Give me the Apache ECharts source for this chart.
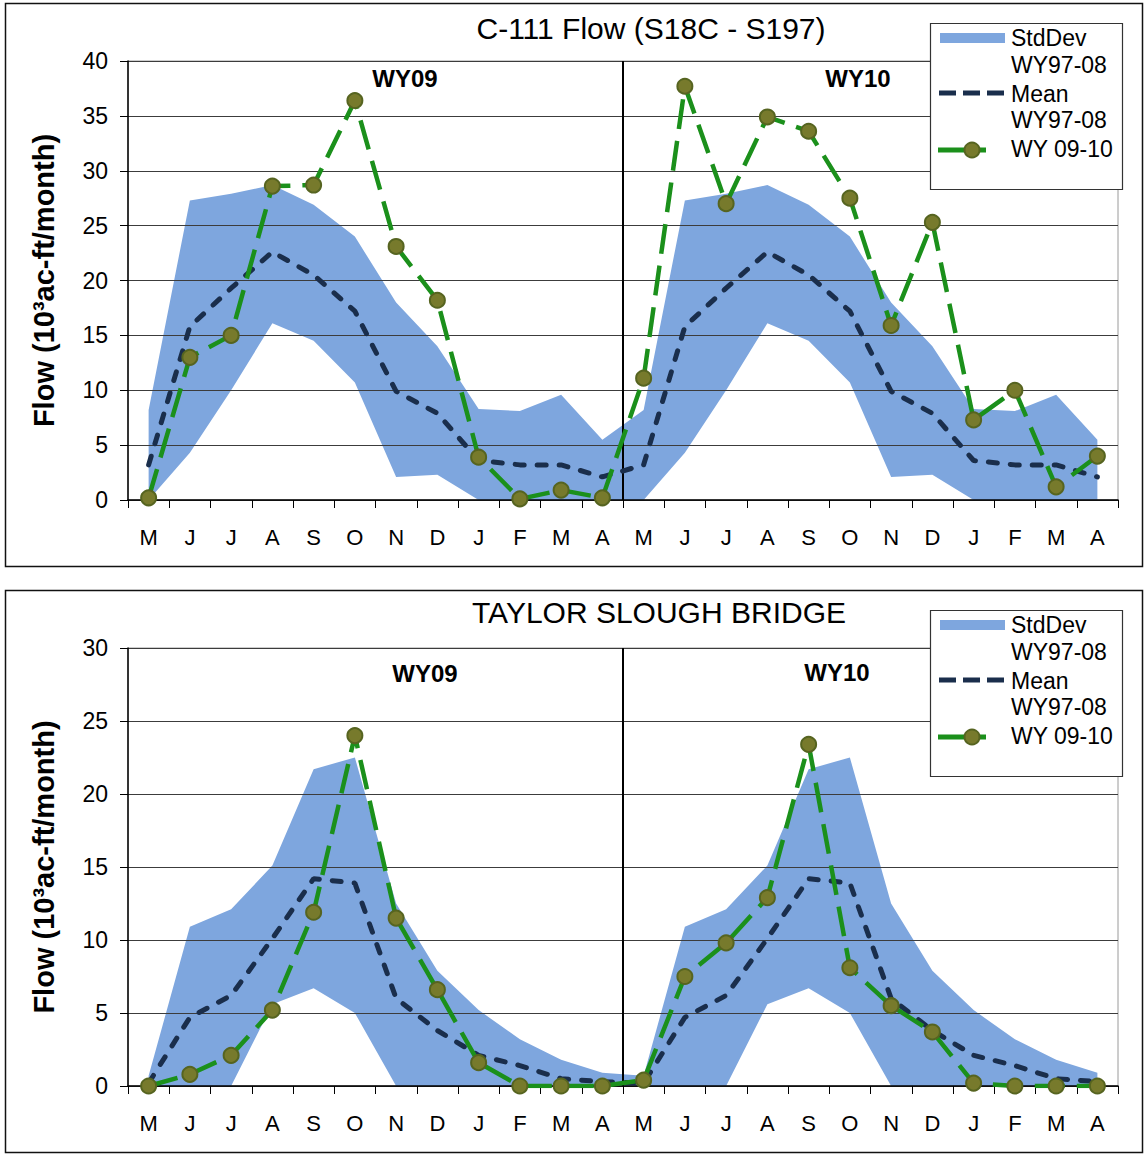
<!DOCTYPE html>
<html>
<head>
<meta charset="utf-8">
<title>C-111 Flow and Taylor Slough Bridge</title>
<script src="https://cdn.jsdelivr.net/npm/echarts@6/dist/echarts.min.js"></script>
<style>
  html, body { margin: 0; padding: 0; background: #fff; }
  #chart { width: 1146px; height: 1155px; }
</style>
</head>
<body>
<div id="chart"></div>
<script>
// Month labels of one water year (May - April)
const months = ['M', 'J', 'J', 'A', 'S', 'O', 'N', 'D', 'J', 'F', 'M', 'A'];
const yearLabels = ['WY09', 'WY10'];

// C-111 Flow (S18C - S197), 10^3 ac-ft/month
const c111Mean = [3.2, 15.8, 19.3, 22.6, 20.5, 17.2, 9.9, 7.9, 3.6, 3.2, 3.2, 2.1];
const c111SdUpper = [8.2, 27.3, 27.9, 28.7, 26.9, 24.0, 18.0, 14.0, 8.3, 8.1, 9.6, 5.5];
const c111SdLower = [0, 4.3, 10.0, 16.1, 14.5, 10.7, 2.1, 2.3, 0, 0, 0, 0];
const c111Flow = [0.2, 13.0, 15.0, 28.6, 28.7, 36.4, 23.1, 18.2, 3.9, 0.1, 0.9, 0.2,
                  11.1, 37.7, 27.0, 34.9, 33.6, 27.5, 15.9, 25.3, 7.3, 10.0, 1.2, 4.0];

// Taylor Slough Bridge, 10^3 ac-ft/month
const tsbMean = [0.2, 4.7, 6.2, 10.1, 14.2, 13.9, 6.0, 3.8, 2.1, 1.4, 0.5, 0.3];
const tsbSdUpper = [0.7, 10.9, 12.1, 15.1, 21.7, 22.5, 12.5, 7.9, 5.2, 3.2, 1.8, 0.9];
const tsbSdLower = [0, 0, 0, 5.6, 6.7, 5.0, 0, 0, 0, 0, 0, 0];
const tsbFlow = [0, 0.8, 2.1, 5.2, 11.9, 24.0, 11.5, 6.6, 1.6, 0, 0, 0,
                 0.4, 7.5, 9.8, 12.9, 23.4, 8.1, 5.5, 3.7, 0.2, 0, 0, 0];

// Axis ranges
const c111Y = { max: 40, step: 5 };
const tsbY = { max: 30, step: 5 };

// ---- styling ----
const FONT = "'Liberation Sans', Arial, sans-serif";
const BAND = '#7ea6de';
const NAVY = '#1a2e4c';
const GREEN = '#1b901b';
const MARKER = '#777a2c';
const MARKER_EDGE = '#566420';

// The WY97-08 statistics repeat for both water years
const twoYears = arr => arr.concat(arr);
const categories = twoYears(months);

const panels = [
  { title: 'C-111 Flow (S18C - S197)', y: c111Y, mean: c111Mean, up: c111SdUpper, lo: c111SdLower,
    flow: c111Flow, top: 61, height: 439, frame: [5.5, 3.5, 1137, 563], dy: 0,
    titleX: 651, titleY: 28, wyPos: [[405, 78], [858, 78]] },
  { title: 'TAYLOR SLOUGH BRIDGE', y: tsbY, mean: tsbMean, up: tsbSdUpper, lo: tsbSdLower,
    flow: tsbFlow, top: 648, height: 438, frame: [5.5, 590.5, 1137, 562], dy: 587,
    titleX: 659, titleY: 612, wyPos: [[425, 673], [837, 672]] }
];

const grids = [], xAxes = [], yAxes = [], series = [], graphics = [];

panels.forEach((p, i) => {
  grids.push({ left: 128, top: p.top, width: 990, height: p.height,
               show: true, borderColor: '#9a9a9a', borderWidth: 1 });

  // category axis with month labels
  xAxes.push({
    type: 'category', gridIndex: i, data: categories, boundaryGap: true, z: 2,
    axisLine: { lineStyle: { color: '#000', width: 1.5 } },
    axisTick: { show: true, interval: 0, length: 8, lineStyle: { color: '#000', width: 1 } },
    axisLabel: { interval: 0, color: '#000', fontSize: 22, fontFamily: FONT, margin: 26 },
    splitLine: { show: false }
  });
  // hidden value axis for the water-year divider
  xAxes.push({ type: 'value', gridIndex: i, min: 0, max: categories.length, show: false });

  yAxes.push({
    type: 'value', gridIndex: i, min: 0, max: p.y.max, interval: p.y.step, z: 2,
    name: 'Flow (10³ac-ft/month)', nameLocation: 'middle', nameGap: 70,
    nameTextStyle: { color: '#000', fontSize: 29, fontWeight: 'bold', fontFamily: FONT },
    axisLine: { show: true, lineStyle: { color: '#000', width: 1.5 } },
    axisTick: { show: true, length: 8, lineStyle: { color: '#000' } },
    axisLabel: { color: '#000', fontSize: 23, fontFamily: FONT, margin: 20 },
    splitLine: { show: true, lineStyle: { color: '#3c3c3c', width: 1 } }
  });

  const catX = i * 2, valX = i * 2 + 1, stack = 'sd' + i;

  series.push({
    type: 'line', name: 'sdBase' + i, xAxisIndex: catX, yAxisIndex: i, stack: stack,
    data: twoYears(p.lo), symbol: 'none', lineStyle: { width: 0, opacity: 0 }, silent: true, z: 1
  });
  series.push({
    type: 'line', name: 'StdDev WY97-08', xAxisIndex: catX, yAxisIndex: i, stack: stack,
    data: twoYears(p.up.map((u, k) => u - p.lo[k])), symbol: 'none',
    lineStyle: { width: 0, opacity: 0 }, areaStyle: { color: BAND, opacity: 1 }, silent: true, z: 1
  });
  series.push({
    type: 'line', name: 'Mean WY97-08', xAxisIndex: catX, yAxisIndex: i,
    data: twoYears(p.mean), symbol: 'none',
    lineStyle: { color: NAVY, width: 5, type: [9, 13], cap: 'round' }, z: 4
  });
  series.push({
    type: 'line', name: 'WY 09-10', xAxisIndex: catX, yAxisIndex: i,
    data: p.flow, symbol: 'circle', symbolSize: 15,
    lineStyle: { color: GREEN, width: 4.5, type: [30, 12] },
    itemStyle: { color: MARKER, borderColor: MARKER_EDGE, borderWidth: 2 }, z: 5
  });
  // divider between the two water years
  series.push({
    type: 'line', name: 'divider' + i, xAxisIndex: valX, yAxisIndex: i,
    data: [[months.length, 0], [months.length, p.y.max]], symbol: 'none',
    lineStyle: { color: '#000', width: 2 }, silent: true, z: 3
  });

  // frame, title, water-year labels
  const [fx, fy, fw, fh] = p.frame;
  graphics.push({ type: 'rect', shape: { x: fx, y: fy, width: fw, height: fh },
                  style: { fill: 'none', stroke: '#111', lineWidth: 1.5 }, z: 0 });
  graphics.push({ type: 'text', x: p.titleX, y: p.titleY, z: 10,
                  style: { text: p.title, fill: '#000', font: '30px ' + FONT,
                           textAlign: 'center', textVerticalAlign: 'middle' } });
  yearLabels.forEach((lab, k) => {
    graphics.push({ type: 'text', x: p.wyPos[k][0], y: p.wyPos[k][1], z: 10,
                    style: { text: lab, fill: '#000', font: 'bold 24px ' + FONT,
                             textAlign: 'center', textVerticalAlign: 'middle' } });
  });

  // legend
  const d = p.dy;
  const txt = (t, y) => ({ type: 'text', x: 1011, y: y + d, z: 11,
    style: { text: t, fill: '#000', font: '23px ' + FONT, textAlign: 'left', textVerticalAlign: 'middle' } });
  graphics.push({ type: 'rect', z: 10, shape: { x: 930.5, y: 23.5 + d, width: 192, height: 166 },
                  style: { fill: '#fff', stroke: '#333', lineWidth: 1.2 } });
  graphics.push({ type: 'rect', z: 11, shape: { x: 940, y: 33 + d, width: 65, height: 10 },
                  style: { fill: BAND } });
  graphics.push(txt('StdDev', 38), txt('WY97-08', 65));
  graphics.push({ type: 'line', z: 11, shape: { x1: 939, y1: 93 + d, x2: 1005, y2: 93 + d },
                  style: { stroke: NAVY, lineWidth: 5, lineDash: [17, 7] } });
  graphics.push(txt('Mean', 94), txt('WY97-08', 120));
  graphics.push({ type: 'line', z: 11, shape: { x1: 938, y1: 150 + d, x2: 986, y2: 150 + d },
                  style: { stroke: GREEN, lineWidth: 5 } });
  graphics.push({ type: 'circle', z: 12, shape: { cx: 972, cy: 150 + d, r: 7.5 },
                  style: { fill: MARKER, stroke: MARKER_EDGE, lineWidth: 2 } });
  graphics.push(txt('WY 09-10', 149));
});

const chart = echarts.init(document.getElementById('chart'), null, { renderer: 'svg' });
chart.setOption({
  animation: false,
  backgroundColor: '#fff',
  textStyle: { fontFamily: FONT },
  grid: grids,
  xAxis: xAxes,
  yAxis: yAxes,
  series: series,
  graphic: graphics
});
</script>
</body>
</html>
